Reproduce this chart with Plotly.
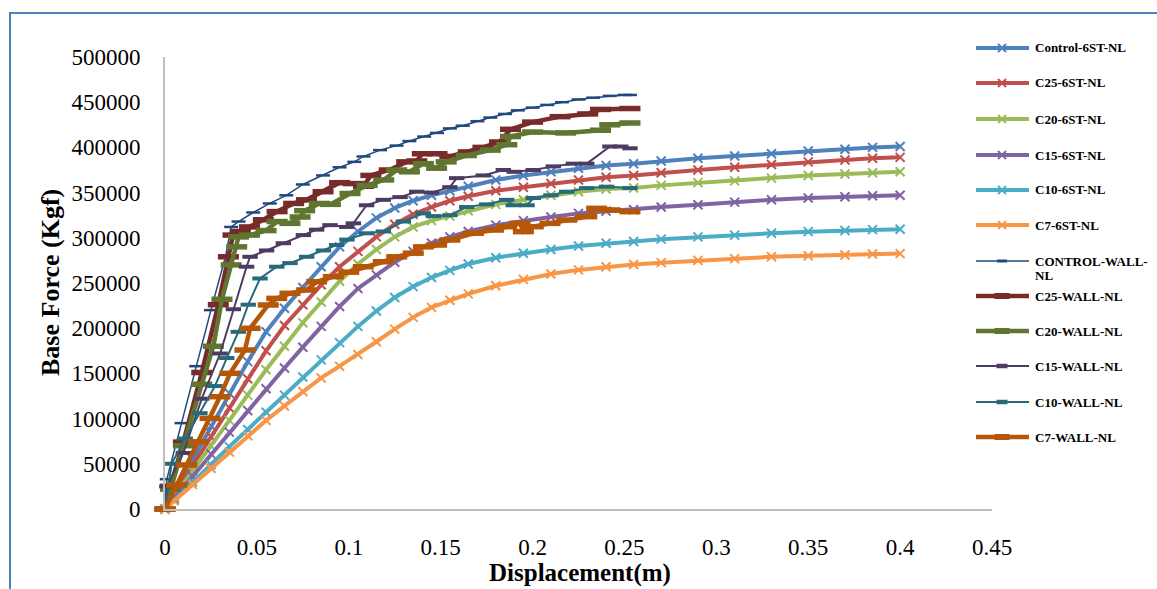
import plotly.graph_objects as go

# ---- pushover curves: displacement (m) vs base force (Kgf) ----
series_names = [
    "Control-6ST-NL", "C25-6ST-NL", "C20-6ST-NL", "C15-6ST-NL", "C10-6ST-NL", "C7-6ST-NL",
    "CONTROL-WALL-NL", "C25-WALL-NL", "C20-WALL-NL", "C15-WALL-NL", "C10-WALL-NL", "C7-WALL-NL",
]

disp_6st = [0, 0.005, 0.015, 0.025, 0.035, 0.045, 0.055, 0.065, 0.075, 0.085, 0.095, 0.105,
            0.115, 0.125, 0.135, 0.145, 0.155, 0.165, 0.18, 0.195, 0.21, 0.225, 0.24, 0.255,
            0.27, 0.29, 0.31, 0.33, 0.35, 0.37, 0.385, 0.4]

force_control_6st = [0, 18000, 55000, 92000, 128000, 163000, 196000, 222000, 245000, 268000,
                     290000, 307000, 322000, 333000, 341000, 347000, 352000, 357000, 364000,
                     369000, 373000, 377000, 380000, 382000, 385000, 388000, 390500, 393000,
                     396000, 398000, 400000, 401000]
force_c25_6st = [0, 16000, 48000, 80000, 112000, 144000, 175000, 203000, 226000, 248000,
                 268000, 285000, 301000, 315000, 326000, 334000, 341000, 346000, 352000,
                 356000, 360000, 364000, 367000, 369000, 372000, 375000, 378000, 381000,
                 384000, 386000, 388000, 389000]
force_c20_6st = [0, 14000, 42000, 70000, 98000, 126000, 154000, 180000, 206000, 229000,
                 252000, 271000, 287000, 301000, 312000, 319000, 324000, 330000, 337000,
                 342000, 347000, 351000, 354000, 355000, 358000, 361000, 363000, 366000,
                 369000, 370500, 372000, 373000]
force_c15_6st = [0, 12000, 36000, 61000, 85000, 109000, 133000, 156000, 179000, 202000,
                 224000, 244000, 259000, 273000, 285000, 294000, 301000, 307000, 314000,
                 319000, 323000, 327000, 329500, 331000, 334000, 336500, 339500, 342000,
                 344000, 345500, 346500, 347000]
force_c10_6st = [0, 10000, 30000, 49000, 69000, 88000, 107000, 126000, 146000, 165000,
                 184000, 202000, 219000, 234000, 246000, 256000, 264000, 271000, 278000,
                 283000, 287000, 291000, 294000, 296000, 298500, 301000, 303000, 305000,
                 306800, 308000, 309000, 309500]
force_c7_6st = [0, 9000, 27000, 45000, 63000, 81000, 98000, 114000, 130000, 145000,
                158000, 171000, 185000, 199000, 212000, 223000, 231000, 238000, 247000,
                254000, 260000, 264500, 268000, 270500, 272500, 275000, 277000, 279000,
                280200, 281000, 282000, 282500]

disp_control_wall = [0, 0.001, 0.009, 0.017, 0.025, 0.033, 0.036, 0.040, 0.048, 0.057, 0.066,
                     0.075, 0.086, 0.095, 0.103, 0.108, 0.117, 0.126, 0.133, 0.141, 0.148,
                     0.155, 0.162, 0.170, 0.177, 0.185, 0.192, 0.2, 0.208, 0.216, 0.225,
                     0.233, 0.242, 0.25, 0.253]
force_control_wall = [0, 33000, 95000, 158000, 220000, 280000, 312000, 318000, 328000, 338000,
                      347000, 359000, 369000, 378000, 384000, 390000, 397000, 402000, 407000,
                      412000, 416000, 421000, 424000, 429000, 433000, 437000, 441000, 444000,
                      447000, 450000, 453000, 455000, 457000, 458000, 458000]

disp_c25_wall = [0, 0.003, 0.01, 0.02, 0.029, 0.0345, 0.037, 0.041, 0.046, 0.0535, 0.061, 0.07,
                 0.077, 0.086, 0.095, 0.1025, 0.108, 0.112, 0.122, 0.1315, 0.137, 0.14, 0.148,
                 0.155, 0.165, 0.173, 0.182, 0.188, 0.2, 0.215, 0.23, 0.237, 0.253]
force_c25_wall = [0, 25000, 74000, 151000, 226000, 279000, 303000, 307000, 312000, 320000,
                  329000, 338000, 342000, 351000, 361000, 360000, 357000, 369000, 375000,
                  384000, 385000, 393000, 393000, 390000, 395000, 400000, 406000, 420000,
                  428000, 434000, 437000, 442000, 443000]

disp_c20_wall = [0, 0.003, 0.01, 0.02, 0.0263, 0.031, 0.036, 0.039, 0.040, 0.046, 0.055, 0.061,
                 0.068, 0.0735, 0.076, 0.084, 0.09, 0.1007, 0.11, 0.119, 0.126, 0.133, 0.1406,
                 0.1478, 0.153, 0.164, 0.177, 0.186, 0.188, 0.2, 0.218, 0.237, 0.242, 0.253]
force_c20_wall = [0, 22000, 70000, 138000, 180000, 232000, 270000, 290000, 301000, 303000,
                  308000, 318000, 316000, 323000, 330000, 338000, 337000, 349000, 358000,
                  364000, 375000, 373000, 382000, 377000, 384000, 391000, 397000, 403000,
                  412000, 417000, 416000, 419000, 425000, 427000]

disp_c15_wall = [0, 0.001, 0.01, 0.02, 0.03, 0.0372, 0.0444, 0.0463, 0.0553, 0.0644, 0.0753,
                 0.0825, 0.0898, 0.0989, 0.1025, 0.1097, 0.1188, 0.1279, 0.137, 0.145, 0.155,
                 0.1587, 0.1732, 0.1841, 0.19, 0.2004, 0.2113, 0.2222, 0.2295, 0.2421, 0.248,
                 0.253]
force_c15_wall = [0, 25000, 62000, 122000, 172000, 221000, 268000, 279000, 286000, 294000,
                  303000, 309000, 314000, 312000, 316000, 336000, 342000, 345000, 351000,
                  350000, 356000, 366000, 369000, 375000, 373000, 375000, 379000, 382000,
                  382000, 401000, 401000, 399000]

disp_c10_wall = [0, 0.0036, 0.011, 0.019, 0.0272, 0.0336, 0.0399, 0.0453, 0.0517, 0.0608, 0.068,
                 0.0771, 0.0862, 0.0934, 0.099, 0.1097, 0.1188, 0.1297, 0.1406, 0.146, 0.155,
                 0.1642, 0.175, 0.1859, 0.1895, 0.197, 0.2004, 0.21, 0.2186, 0.2295, 0.2403,
                 0.253]
force_c10_wall = [0, 50000, 78000, 106000, 136000, 167000, 196000, 226000, 255000, 268000,
                  272000, 279000, 286000, 292000, 298000, 305000, 307000, 318000, 327000,
                  324000, 325000, 334000, 337000, 342000, 336000, 336000, 344000, 347000,
                  351000, 355000, 356500, 355000]

disp_c7_wall = [0, 0.0064, 0.0118, 0.0181, 0.0245, 0.0299, 0.0354, 0.0435, 0.0463, 0.0562,
                0.0608, 0.068, 0.0771, 0.0825, 0.0916, 0.1, 0.1079, 0.1188, 0.1261, 0.1351,
                0.1406, 0.1478, 0.155, 0.1678, 0.1787, 0.1859, 0.1932, 0.195, 0.2004, 0.2095,
                0.2186, 0.2295, 0.2349, 0.2421, 0.253]
force_c7_wall = [0, 26500, 48700, 74400, 100300, 124200, 150100, 175900, 199900, 225700,
                 233000, 238600, 242300, 251400, 257000, 262000, 268000, 273500, 279000,
                 283000, 290000, 292000, 297600, 305000, 308600, 312300, 316000, 306800,
                 312300, 316000, 319700, 323400, 332600, 330800, 328900]

x_tick_vals = [0, 0.05, 0.1, 0.15, 0.2, 0.25, 0.3, 0.35, 0.4, 0.45]
x_tick_text = ["0", "0.05", "0.1", "0.15", "0.2", "0.25", "0.3", "0.35", "0.4", "0.45"]
y_tick_vals = [0, 50000, 100000, 150000, 200000, 250000, 300000, 350000, 400000, 450000, 500000]
y_tick_text = [str(v) for v in y_tick_vals]

# ---- styling per series ----
colors = ["#4F81BD", "#C0504D", "#9BBB59", "#8064A2", "#4BACC6", "#F79646",
          "#1F497D", "#772C2A", "#5F7530", "#4D3B62", "#276A7C", "#B65708"]
line_widths = [4, 4, 4, 4, 4, 4, 1.5, 4.5, 4.5, 2, 2, 4.5]
wall_marker_size = [0, 0, 0, 0, 0, 0, 10, 15, 15, 11, 11, 15]
wall_marker_thick = [0, 0, 0, 0, 0, 0, 2.5, 5.5, 5.5, 4, 4, 5.5]

xs = [disp_6st] * 6 + [disp_control_wall, disp_c25_wall, disp_c20_wall,
                       disp_c15_wall, disp_c10_wall, disp_c7_wall]
ys = [force_control_6st, force_c25_6st, force_c20_6st, force_c15_6st, force_c10_6st,
      force_c7_6st, force_control_wall, force_c25_wall, force_c20_wall, force_c15_wall,
      force_c10_wall, force_c7_wall]

fig = go.Figure()
for i, name in enumerate(series_names):
    if i < 6:
        marker = dict(symbol="x-thin", size=9, color=colors[i],
                      line=dict(color=colors[i], width=2))
    else:
        marker = dict(symbol="line-ew", size=wall_marker_size[i], color=colors[i],
                      line=dict(color=colors[i], width=wall_marker_thick[i]))
    fig.add_trace(go.Scatter(
        x=xs[i], y=ys[i], name=name, mode="lines+markers",
        line=dict(color=colors[i], width=line_widths[i]),
        marker=marker, showlegend=False, cliponaxis=False,
    ))

# ---- page geometry (pixels) ----
W, H = 1157, 589
L, R, T, B = 165, 992, 57, 509


def px_x(p):
    return (p - L) / (R - L)


def px_y(p):
    return (B - p) / (B - T)


serif = "Liberation Serif, Times New Roman, serif"
shapes = []
annotations = []

# outer chart frame
shapes.append(dict(type="rect", xref="paper", yref="paper",
                   x0=px_x(10), x1=px_x(1175), y0=px_y(620), y1=px_y(13),
                   line=dict(color="#4F81BD", width=2), fillcolor="rgba(0,0,0,0)",
                   layer="below"))

# hand-built legend
legend_rows = [48, 83, 119, 155, 190, 225, 261, 296, 331, 366, 402, 437]
for i, name in enumerate(series_names):
    yy = px_y(legend_rows[i])
    shapes.append(dict(type="line", xref="paper", yref="paper",
                       x0=px_x(976), x1=px_x(1029), y0=yy, y1=yy,
                       line=dict(color=colors[i], width=line_widths[i])))
    cx = 1002
    if i < 6:
        for dy in (-4, 4):
            shapes.append(dict(type="line", xref="paper", yref="paper",
                               x0=px_x(cx - 4), x1=px_x(cx + 4),
                               y0=px_y(legend_rows[i] - dy), y1=px_y(legend_rows[i] + dy),
                               line=dict(color=colors[i], width=2)))
    else:
        half = wall_marker_size[i] / 2
        shapes.append(dict(type="line", xref="paper", yref="paper",
                           x0=px_x(cx - half), x1=px_x(cx + half), y0=yy, y1=yy,
                           line=dict(color=colors[i], width=wall_marker_thick[i] + 0.5)))
    if name == "CONTROL-WALL-NL":
        parts = [("CONTROL-WALL-", legend_rows[i]), ("NL", legend_rows[i] + 14)]
    else:
        parts = [(name, legend_rows[i])]
    for txt, ry in parts:
        annotations.append(dict(text="<b>" + txt + "</b>", xref="paper", yref="paper",
                                x=px_x(1033), y=px_y(ry), xanchor="left", yanchor="middle",
                                showarrow=False, font=dict(family=serif, size=13, color="#000")))

# axis titles
annotations.append(dict(text="<b>Base Force (Kgf)</b>", xref="paper", yref="paper",
                        x=px_x(50), y=px_y(283), textangle=-90, showarrow=False,
                        xanchor="center", yanchor="middle",
                        font=dict(family=serif, size=26, color="#000")))
annotations.append(dict(text="<b>Displacement(m)</b>", xref="paper", yref="paper",
                        x=px_x(580), y=px_y(573), showarrow=False,
                        xanchor="center", yanchor="middle",
                        font=dict(family=serif, size=25, color="#000")))

fig.update_layout(
    width=W, height=H,
    margin=dict(l=L, r=W - R, t=T, b=H - B, pad=0),
    paper_bgcolor="white", plot_bgcolor="white",
    shapes=shapes, annotations=annotations,
    showlegend=False,
    xaxis=dict(range=[0, 0.45], tickvals=x_tick_vals, ticktext=x_tick_text,
               showgrid=False, zeroline=False, showline=True, linecolor="#BFBFBF",
               linewidth=2, ticks="", ticklabelstandoff=16,
               tickfont=dict(family=serif, size=23, color="#000")),
    yaxis=dict(range=[0, 500000], tickvals=y_tick_vals, ticktext=y_tick_text,
               showgrid=False, zeroline=False, showline=True, linecolor="#BFBFBF",
               linewidth=2, ticks="", ticklabelstandoff=18,
               tickfont=dict(family=serif, size=23, color="#000")),
)

fig.write_html("out.html")
